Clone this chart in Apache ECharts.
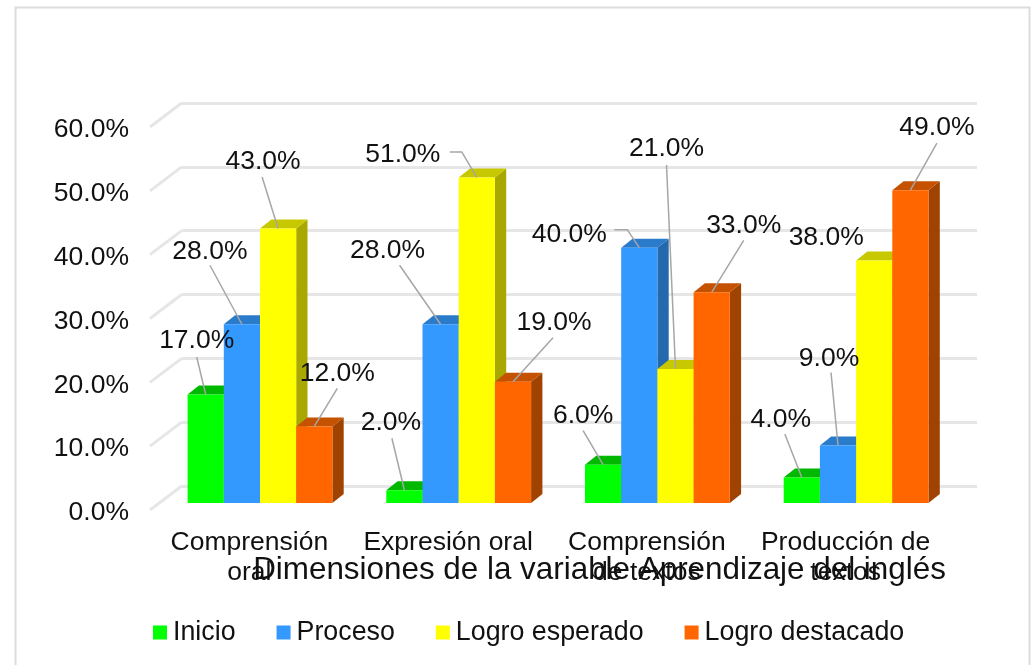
<!DOCTYPE html>
<html><head><meta charset="utf-8">
<style>html,body{margin:0;padding:0;background:#fff}#c{width:1036px;height:665px}</style>
<script src="https://cdn.jsdelivr.net/npm/echarts@6/dist/echarts.min.js"></script>
</head><body><div id="c"></div>
<script>
const categories = ['Comprensión\noral', 'Expresión oral', 'Comprensión\nde textos', 'Producción de\ntextos'];
const seriesNames = ['Inicio', 'Proceso', 'Logro esperado', 'Logro destacado'];
const inicio = [17, 2, 6, 4];
const proceso = [28, 28, 40, 9];
const esperado = [43, 51, 21, 38];
const destacado = [12, 19, 33, 49];
const gridTicks = [0, 10, 20, 30, 40, 50, 60];
const title = 'Dimensiones de la variable Aprendizaje del inglés';

const allValues = [inicio, proceso, esperado, destacado];
const frontColors = ['#00ff00', '#3399ff', '#ffff00', '#ff6600'];
const topColors = ['#00b800', '#2b7bcb', '#c8c800', '#c45200'];
const sideColors = ['#00a000', '#2468ad', '#a8a800', '#a04300'];
// label layout relative to the top centre of each bar: [textDx,textDy, lineDx,lineDy, elbowDx,elbowDy]
const labelLayouts = [
  [[-9,-53.5,-9,-37.5],[-13.5,-68,-12.5,-52],[-20,-49,-20,-34],[-21,-57.5,-17,-43.5]],
  [[-32,-73,-32,-59],[-53,-74,-41,-59],[-70,-13,-25,-18,-12,-18],[-9,-87,-7,-73]],
  [[-15,-66.5,-16,-51.5],[-74,-22.5,-27,-25.5,-15,-25.5],[-9,-220,-9,-204],[-48,-23]],
  [[23,-53,23,-38],[41,-59,40,-44],[32,-67,32,-52],[26.5,-63,26.5,-47]]
];
const FONT = '"Liberation Sans", Arial, sans-serif';
const DX = 11.3, DY = 9, WALL_X = 31.7, WALL_Y = 24, LABEL_DROP = 3;
const BAR_RATIO = 36.2 / 198.7;

function barRender(si) {
  return function (params, api) {
    const i = api.value(0), v = api.value(1);
    const band = api.size([1, 0])[0], w = band * BAR_RATIO;
    const c = api.coord([i, v]), b = api.coord([i, 0]);
    const x = c[0] + (si - 2) * w, y = c[1], yb = b[1];
    const children = [
      { type: 'polygon', shape: { points: [[x + w, y], [x + w + DX, y - DY], [x + w + DX, yb - DY], [x + w, yb]] }, style: { fill: sideColors[si] } },
      { type: 'polygon', shape: { points: [[x, y], [x + DX, y - DY], [x + w + DX, y - DY], [x + w, y]] }, style: { fill: topColors[si] } },
      { type: 'rect', shape: { x: x, y: y, width: w, height: yb - y }, style: { fill: frontColors[si] } }
    ];
    const L = labelLayouts[si][i], ax = x + w / 2;
    if (L.length >= 4) {
      const pts = [[ax + L[2], y + L[3]]];
      if (L.length >= 6) pts.push([ax + L[4], y + L[5]]);
      pts.push([ax, y]);
      children.push({ type: 'polyline', z2: 100, shape: { points: pts }, style: { stroke: '#a6a6a6', lineWidth: 1.5, fill: null } });
    }
    children.push({ type: 'text', z2: 101, x: ax + L[0], y: y + L[1], style: { text: v.toFixed(1) + '%', fill: '#111', font: '26.5px ' + FONT, textAlign: 'center', textVerticalAlign: 'middle' } });
    return { type: 'group', children: children };
  };
}

const chart = echarts.init(document.getElementById('c'), null, { renderer: 'canvas' });
const hiddenX = g => ({ type: 'category', gridIndex: g, data: categories, axisLine: { show: false }, axisTick: { show: false }, axisLabel: { show: false }, splitLine: { show: false } });
const hiddenY = (g, split) => ({ type: 'value', gridIndex: g, min: 0, max: 60, interval: 10, axisLine: { show: false }, axisTick: { show: false }, axisLabel: { show: false }, splitLine: { show: split, lineStyle: { color: '#e6e6e6', width: 3 } } });

chart.setOption({
  animation: false,
  backgroundColor: '#fff',
  graphic: [{ type: 'rect', silent: true, z: -1, shape: { x: 15.5, y: 7.5, width: 1014, height: 680 }, style: { fill: '#fff', stroke: '#dcdcdc', lineWidth: 2 } }],
  title: { text: title, left: 594.5, top: 550, textAlign: 'center', textStyle: { fontFamily: FONT, fontSize: 31.4, fontWeight: 'normal', color: '#111' } },
  legend: {
    data: seriesNames, left: 148, top: 614, itemWidth: 14, itemHeight: 14, itemGap: 41, icon: 'rect',
    textStyle: { fontFamily: FONT, fontSize: 26.8, color: '#111', padding: [0, 0, 0, 1] }
  },
  grid: [
    { left: 150, top: 127 + LABEL_DROP, width: 795, height: 383 },   // front plane: axis labels
    { left: 181.7, top: 103, width: 795.3, height: 383 }, // back wall: gridlines
    { left: 160.65, top: 120, width: 794.8, height: 383 } // bars
  ],
  xAxis: [
    { type: 'category', gridIndex: 0, data: categories, axisLine: { show: false }, axisTick: { show: false },
      axisLabel: { interval: 0, margin: 15, fontFamily: FONT, fontSize: 26.5, lineHeight: 30, color: '#111' } },
    hiddenX(1), hiddenX(2)
  ],
  yAxis: [
    { type: 'value', gridIndex: 0, min: 0, max: 60, interval: 10, axisLine: { show: false }, axisTick: { show: false }, splitLine: { show: false },
      axisLabel: { margin: 21, fontFamily: FONT, fontSize: 26.5, color: '#111', formatter: v => v.toFixed(1) + '%' } },
    hiddenY(1, true), hiddenY(2, false)
  ],
  series: [
    { type: 'custom', name: 'walls', xAxisIndex: 0, yAxisIndex: 0, silent: true, z: 1,
      data: gridTicks.map(t => [0, t]),
      renderItem: (params, api) => {
        const p = api.coord([0, api.value(1)]), x = params.coordSys.x, y = p[1] - LABEL_DROP;
        return { type: 'line', shape: { x1: x, y1: y, x2: x + WALL_X, y2: y - WALL_Y }, style: { stroke: '#e6e6e6', lineWidth: 3 } };
      } }
  ].concat(seriesNames.map((n, si) => ({
    type: 'custom', name: n, xAxisIndex: 2, yAxisIndex: 2, z: 2,
    itemStyle: { color: frontColors[si] },
    encode: { x: 0, y: 1 },
    data: allValues[si].map((v, i) => [i, v]),
    renderItem: barRender(si)
  })))
});
</script></body></html>
